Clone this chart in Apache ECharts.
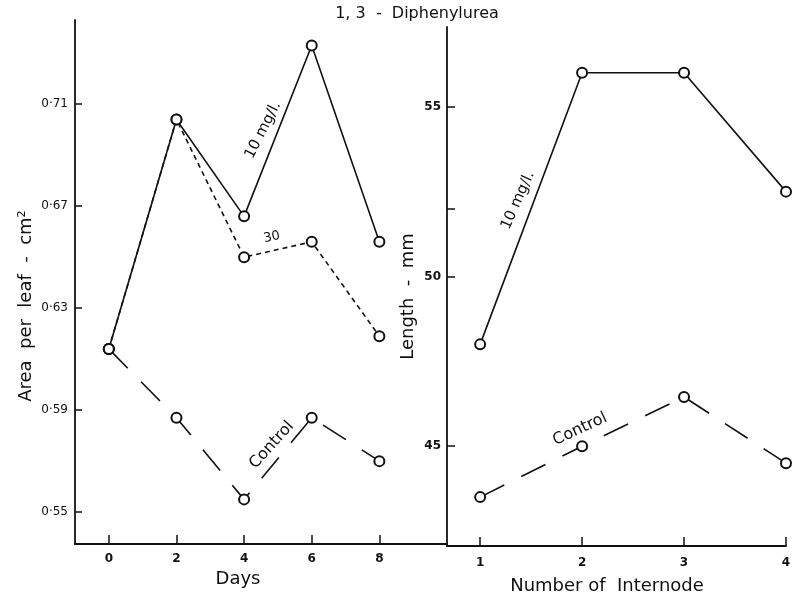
<!DOCTYPE html>
<html>
<head>
<meta charset="utf-8">
<script src="https://cdn.jsdelivr.net/npm/echarts@6/dist/echarts.min.js"></script>
<style>html,body{margin:0;padding:0;background:#fff}#c{width:799px;height:601px}</style>
</head>
<body>
<div id="c"></div>
<script>
// ---- Left panel: leaf area vs days ----
const days = [0, 2, 4, 6, 8];
const area10 = [0.614, 0.704, 0.666, 0.733, 0.656];
const area30 = [0.614, 0.704, 0.650, 0.656, 0.619];
const areaControl = [0.614, 0.587, 0.555, 0.587, 0.570];
const areaTicks = [0.55, 0.59, 0.63, 0.67, 0.71];
const dayTicks = [0, 2, 4, 6, 8];

// ---- Right panel: internode length ----
const internodes = [1, 2, 3, 4];
const length10 = [48.0, 56.0, 56.0, 52.5];
const lengthControl = [43.5, 45.0, 46.45, 44.5];
const lengthTickMarks = [45, 50, 52, 55];
const lengthTickLabels = [45, 50, 55];
const internodeTicks = [1, 2, 3, 4];

const FONT = 'DejaVu Sans';
const BLACK = '#111';

function pairs(xs, ys) { return xs.map((x, i) => [x, ys[i]]); }

const chart = echarts.init(document.getElementById('c'), null, {renderer: 'canvas'});

const lineBase = {
  type: 'line',
  symbol: 'emptyCircle',
  symbolSize: 10,
  showSymbol: true,
  animation: false,
  itemStyle: {color: BLACK, borderColor: BLACK, borderWidth: 1.5},
  z: 3
};

const option = {
  backgroundColor: '#fff',
  animation: false,
  grid: [
    {left: 75, width: 372, top: 20, bottom: 57},
    {left: 447, width: 339, top: 27, bottom: 55}
  ],
  xAxis: [
    {
      gridIndex: 0, type: 'value', min: -1, max: 10,
      axisLine: {onZero: false, lineStyle: {color: BLACK, width: 1.8}},
      splitLine: {show: false},
      axisTick: {inside: true, length: 9, customValues: dayTicks, lineStyle: {color: BLACK, width: 1.5}},
      axisLabel: {customValues: dayTicks, color: BLACK, fontFamily: FONT, fontSize: 12, fontWeight: 'bold', margin: 9},
      name: 'Days', nameLocation: 'middle', nameGap: 17,
      nameTextStyle: {color: BLACK, fontFamily: FONT, fontSize: 18, padding: [0, 46, 0, 0]}
    },
    {
      gridIndex: 1, type: 'value', min: 0.675, max: 4,
      axisLine: {onZero: false, lineStyle: {color: BLACK, width: 1.8}},
      splitLine: {show: false},
      axisTick: {inside: true, length: 9, customValues: internodeTicks, lineStyle: {color: BLACK, width: 1.5}},
      axisLabel: {customValues: internodeTicks, color: BLACK, fontFamily: FONT, fontSize: 12, fontWeight: 'bold', margin: 11},
      name: 'Number of  Internode', nameLocation: 'middle', nameGap: 31,
      nameTextStyle: {color: BLACK, fontFamily: FONT, fontSize: 18, padding: [0, 19, 0, 0]}
    }
  ],
  yAxis: [
    {
      gridIndex: 0, type: 'value', min: 0.5375, max: 0.743,
      axisLine: {show: true, onZero: false, lineStyle: {color: BLACK, width: 1.8}},
      splitLine: {show: false},
      axisTick: {show: true, inside: true, length: 7, customValues: areaTicks, lineStyle: {color: BLACK, width: 1.5}},
      axisLabel: {customValues: areaTicks, color: BLACK, fontFamily: FONT, fontSize: 12, margin: 7,
        formatter: v => v.toFixed(2).replace('.', '·')},
      name: 'Area  per  leaf  -  cm²', nameLocation: 'middle', nameGap: 40,
      nameTextStyle: {color: BLACK, fontFamily: FONT, fontSize: 18, padding: [0, 48, 0, 0]}
    },
    {
      gridIndex: 1, type: 'value', min: 42.06, max: 57.35,
      axisLine: {show: true, onZero: false, lineStyle: {color: BLACK, width: 1.8}},
      splitLine: {show: false},
      axisTick: {show: true, inside: true, length: 8, customValues: lengthTickMarks, lineStyle: {color: BLACK, width: 1.5}},
      axisLabel: {customValues: lengthTickLabels, color: BLACK, fontFamily: FONT, fontSize: 12, fontWeight: 'bold', margin: 6},
      name: 'Length  -  mm', nameLocation: 'middle', nameGap: 30,
      nameTextStyle: {color: BLACK, fontFamily: FONT, fontSize: 18, padding: [0, 20, 0, 0]}
    }
  ],
  series: [
    Object.assign({}, lineBase, {name: '10 mg/l (area)', xAxisIndex: 0, yAxisIndex: 0, data: pairs(days, area10),
      lineStyle: {color: BLACK, width: 1.6, type: 'solid'}}),
    Object.assign({}, lineBase, {name: '30 mg/l (area)', xAxisIndex: 0, yAxisIndex: 0, data: pairs(days, area30),
      lineStyle: {color: BLACK, width: 1.6, type: [5, 4]}}),
    Object.assign({}, lineBase, {name: 'Control (area)', xAxisIndex: 0, yAxisIndex: 0, data: pairs(days, areaControl),
      lineStyle: {color: BLACK, width: 1.6, type: [27, 19]}}),
    Object.assign({}, lineBase, {name: '10 mg/l (length)', xAxisIndex: 1, yAxisIndex: 1, data: pairs(internodes, length10),
      lineStyle: {color: BLACK, width: 1.6, type: 'solid'}}),
    Object.assign({}, lineBase, {name: 'Control (length)', xAxisIndex: 1, yAxisIndex: 1, data: pairs(internodes, lengthControl),
      lineStyle: {color: BLACK, width: 1.6, type: [27, 19]}})
  ]
};

chart.setOption(option);

// Annotations anchored in data coordinates
const notes = [
  {text: '10 mg/l.', grid: 0, at: [4.56, 0.6998], rot: 63, size: 15},
  {text: '30', grid: 0, at: [4.82, 0.6578], rot: 12, size: 13},
  {text: 'Control', grid: 0, at: [4.82, 0.5763], rot: 48, size: 16},
  {text: '10 mg/l.', grid: 1, at: [1.371, 52.24], rot: 66, size: 15},
  {text: 'Control', grid: 1, at: [1.98, 45.5], rot: 25, size: 16}
];
const graphics = notes.map(n => {
  const p = chart.convertToPixel({gridIndex: n.grid}, n.at);
  return {
    type: 'text', x: p[0], y: p[1], rotation: n.rot * Math.PI / 180, z: 10,
    style: {text: n.text, fill: BLACK, font: n.size + 'px "' + FONT + '"', align: 'center', verticalAlign: 'middle'}
  };
});
graphics.push({
  type: 'text', x: 417, y: 14, z: 10,
  style: {text: '1, 3  -  Diphenylurea', fill: BLACK, font: '16px "' + FONT + '"', align: 'center', verticalAlign: 'middle'}
});
chart.setOption({graphic: graphics});
</script>
</body>
</html>
